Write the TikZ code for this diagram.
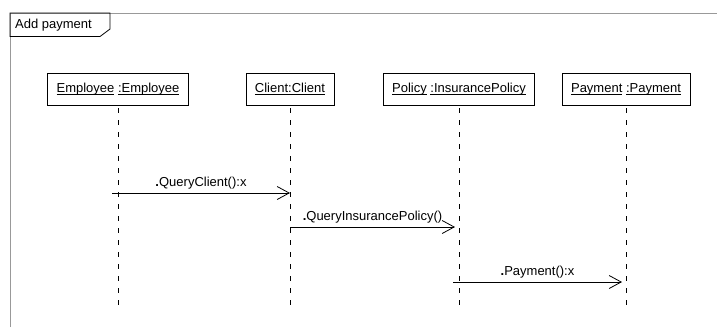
\documentclass[tikz,border=0pt]{standalone}
\usepackage{fontspec}
\setmainfont{Liberation Sans}
\usetikzlibrary{arrows.meta}
\newcommand{\ulname}[1]{\underline{\raisebox{0pt}[\height][0pt]{#1}}}

\begin{document}
\begin{tikzpicture}[x=1pt,y=-1pt,every node/.style={font=\fontsize{13}{15}\selectfont},
		objbox/.style={draw,line width=0.8pt,minimum height=32pt,inner xsep=9pt},
		lifeline/.style={line width=0.9pt,dash pattern=on 5pt off 7pt,dash phase=9pt},
		msg/.style={line width=0.8pt,-{Straight Barb[length=12pt,width=13pt,line width=0.8pt]}}]
		\useasboundingbox (0,0) rectangle (717,327);
		% Frame of the interaction with its name tab
		\draw[gray!80,line width=1pt] (10,327) -- (10,13) -- (717,13);
		\node[anchor=west,inner sep=0pt] (tab) at (15,25) {Add payment};
		\draw[line width=0.8pt] (10,13) -- (110,13) -- (110,29) -- (100,36.5) -- (10,36.5) -- cycle;
		
		% Loop through the objects: {name/label/x of the lifeline}
		\foreach \n/\txt/\x in {emp/{\ulname{Employee} \ulname{:Employee}}/118,
			cli/{\ulname{Client:Client}}/290,
			pol/{\ulname{Policy} \ulname{:InsurancePolicy}}/459,
			pay/{\ulname{Payment} \ulname{:Payment}}/626}{
			\node[objbox] (\n) at (\x,89) {\txt};% Draw the object box
			\coordinate (\n-end) at (\n.south |- 0,305);
			\draw[lifeline] (\n.south) -- (\n-end);% Draw the dashed lifeline
		}
		
		% Messages
		\coordinate (m1) at (0,193);
		\coordinate (m2) at (0,227);
		\coordinate (m3) at (0,282);
		\draw[msg] ([xshift=-6pt]emp |- m1) -- (cli |- m1) node[midway,above]{\textbf{.}QueryClient():x};
		\draw[msg] (cli |- m2) -- ([xshift=-4pt]pol |- m2) node[midway,above]{\textbf{.}QueryInsurancePolicy()};
		\draw[msg] ([xshift=-6pt]pol |- m3) -- ([xshift=-4pt]pay |- m3) node[midway,above]{\textbf{.}Payment():x};
	\end{tikzpicture}
\end{document}
